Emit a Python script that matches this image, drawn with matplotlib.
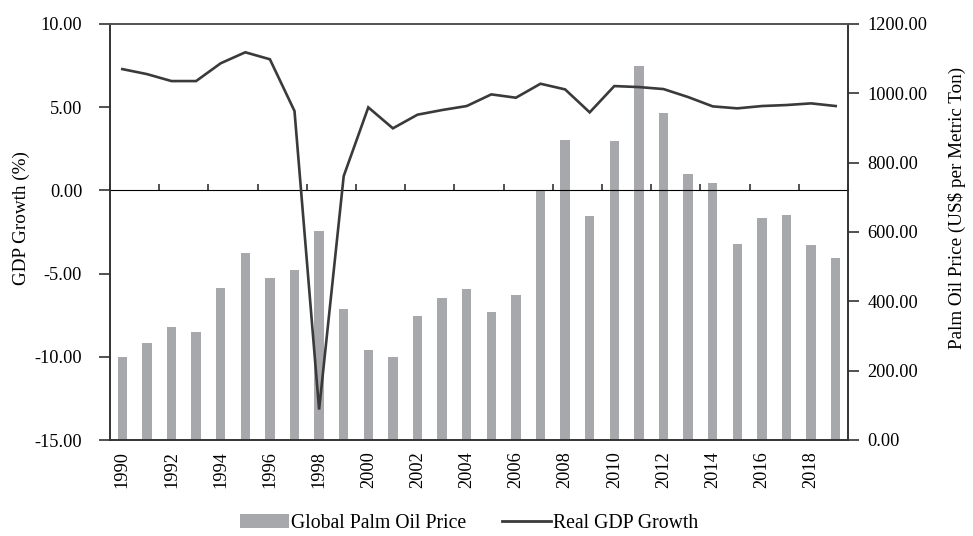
import matplotlib
matplotlib.use("Agg")
import matplotlib.pyplot as plt
import numpy as np
from matplotlib.patches import Patch
from matplotlib.lines import Line2D

years = list(range(1990, 2020))
palm_price = [240, 281, 326, 311, 439, 539, 467, 490, 604, 378,
              260, 240, 359, 410, 436, 369, 418, 719, 865, 646,
              862, 1079, 943, 767, 741, 565, 640, 649, 562, 525]
gdp_growth = [7.29, 6.99, 6.57, 6.57, 7.64, 8.30, 7.88, 4.77, -13.17, 0.86,
              4.99, 3.73, 4.55, 4.83, 5.07, 5.77, 5.57, 6.41, 6.07, 4.69,
              6.27, 6.21, 6.09, 5.61, 5.05, 4.93, 5.07, 5.13, 5.23, 5.07]
left_ticks = [-15, -10, -5, 0, 5, 10]
right_ticks = [0, 200, 400, 600, 800, 1000, 1200]

FONT = "Liberation Serif"
FS = 13.2
plt.rcParams['font.family'] = [FONT, 'DejaVu Serif']
BAR_C = "#a7a8ab"
LINE_C = "#3a3a3a"
AX_C = "#333333"

fig = plt.figure(figsize=(9.73, 5.36), dpi=100)
ax = fig.add_axes([110/973, 1-440/536, (848-110)/973, (440-24)/536])
ax2 = ax.twinx()

x = np.arange(len(years))
ax2.bar(x, palm_price, width=0.39, color=BAR_C, zorder=2)
ax.plot(x, gdp_growth, color=LINE_C, lw=1.9, zorder=3, solid_joinstyle='miter')

ax.set_zorder(ax2.get_zorder() + 1)
ax.patch.set_visible(False)

ax.set_xlim(-0.5, len(years) - 0.5)
ax.set_ylim(-15, 10)
ax2.set_ylim(0, 1200)

ax.set_yticks(left_ticks)
ax.set_yticklabels([f"{v:.2f}" for v in left_ticks], fontsize=FS)
ax2.set_yticks(right_ticks)
ax2.set_yticklabels([f"{v:.2f}" for v in right_ticks], fontsize=FS)

# major ticks at category boundaries every 2 categories, labels at even years
bounds = np.arange(-0.5, len(years), 2)
ax.set_xticks(bounds)
ax.set_xticklabels([])
ax.set_xticks(x[::2], minor=True)
ax.set_xticklabels([str(y) for y in years[::2]], minor=True, rotation=90, fontsize=FS)
ax.tick_params(axis='x', which='minor', length=0, pad=8)
ax.tick_params(axis='x', which='major', length=7, width=1.2, direction='out', color=AX_C)
ax.tick_params(axis='y', length=8, width=1.2, direction='out', color=AX_C, pad=12)
ax2.tick_params(axis='y', length=8, width=1.2, direction='out', color=AX_C, pad=6)
ax2.set_xticks([])

for a in (ax, ax2):
    for s in a.spines.values():
        s.set_color(AX_C)
        s.set_linewidth(1.2)
ax.spines['top'].set_color("#555555")

# zero line with its own ticks
sec = ax.secondary_xaxis(15/25)
sec.set_xticks(bounds)
sec.set_xticklabels([])
sec.tick_params(length=4, width=1.2, direction='out', color=AX_C)
sec.spines['bottom'].set_color(AX_C)
sec.spines['bottom'].set_linewidth(1.2)

ax.set_ylabel("GDP Growth (%)", fontsize=13.8)
ax.yaxis.set_label_coords((30 - 110) / 738, (440 - 218) / 416)
ax2.set_ylabel("Palm Oil Price (US$ per Metric Ton)", fontsize=13.8)
ax2.yaxis.set_label_coords((948 - 110) / 738, (440 - 208) / 416)

handles = [Patch(facecolor=BAR_C, edgecolor='none', label="Global Palm Oil Price"),
           Line2D([], [], color=LINE_C, lw=2, label="Real GDP Growth")]
fig.legend(handles=handles, loc='center', bbox_to_anchor=(469/973, 1-523/536),
           ncol=2, frameon=False, fontsize=14.2, handlelength=2.5, handleheight=0.7,
           handletextpad=0.1, columnspacing=1.8)

fig.savefig("out.png", dpi=100)
